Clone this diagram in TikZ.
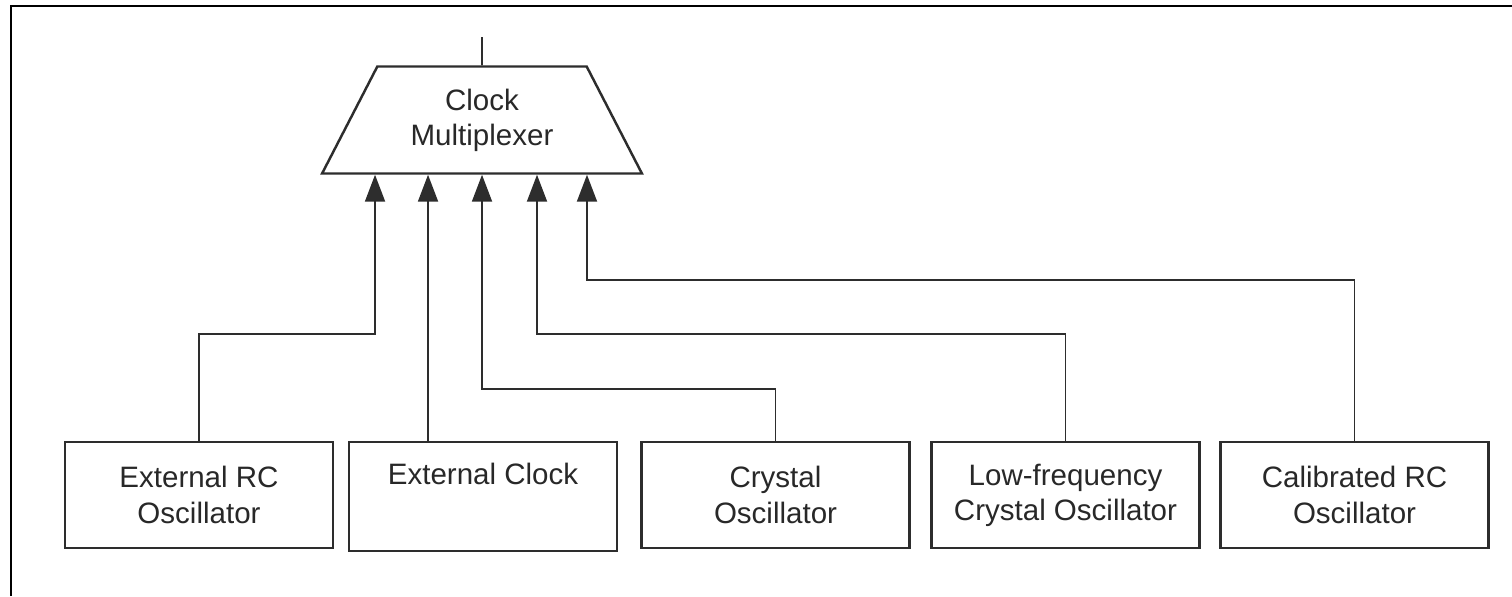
\documentclass[tikz,border=0pt]{standalone}
\usepackage{fontspec}
\setmainfont{Liberation Sans}
\usepackage{tikz}
\usetikzlibrary{shapes.geometric,arrows.meta,positioning,calc}
\definecolor{linegray}{RGB}{45, 45, 45}
\definecolor{textgray}{RGB}{40, 40, 40}

\begin{document}
\begin{tikzpicture}[x=0.02cm, y=-0.02cm,
    every node/.style={font=\fontsize{16.8}{20}\selectfont, text=textgray},
    oscbox/.style={draw=linegray, line width=1.4pt, minimum width=5.36cm, minimum height=2.12cm, align=center, inner sep=0pt},
    muxbox/.style={trapezium, trapezium stretches=true, trapezium angle=59, draw=linegray, line width=1.4pt, minimum width=6.4cm, minimum height=2.14cm, align=center, inner sep=0pt},
    sig/.style={draw=linegray, line width=1.1pt, -{Triangle[length=5.4mm, width=4mm]}}]
    \useasboundingbox (0,0) rectangle (1512,596);

    % Frame
    \draw[line width=1.7pt] (11,596) -- (11,6) -- (1512,6);

    % Clock Multiplexer
    \node[muxbox] (mux) at (482,120) {Clock\\Multiplexer};
    \coordinate (muxout) at (482,37);
    \draw[draw=linegray, line width=1.1pt] (mux.north) -- (muxout);
    \coordinate (in1) at ([xshift=-2.14cm]mux.south);
    \coordinate (in2) at ([xshift=-1.08cm]mux.south);
    \coordinate (in3) at (mux.south);
    \coordinate (in4) at ([xshift=1.1cm]mux.south);
    \coordinate (in5) at ([xshift=2.1cm]mux.south);

    % Clock Sources
    \node[oscbox] (erc) at (199,495) {External RC\\Oscillator};
    \node[oscbox, minimum height=2.18cm] (ecl) at (483,496.5) {External Clock\\\strut};
    \node[oscbox] (xtal) at (775.5,495) {Crystal\\Oscillator};
    \node[oscbox] (lfxtal) at (1065.5,495) {Low-frequency\\Crystal Oscillator};
    \node[oscbox] (calrc) at (1354.5,495) {Calibrated RC\\Oscillator};

    % Routing to Multiplexer
    \draw[sig] (erc.north) -- ++(0,-107) -| (in1);
    \draw[sig] (in2 |- ecl.north) -- (in2);
    \draw[sig] (xtal.north) -- ++(0,-52) -| (in3);
    \draw[sig] (lfxtal.north) -- ++(0,-107) -| (in4);
    \draw[sig] (calrc.north) -- ++(0,-161) -| (in5);
\end{tikzpicture}
\end{document}
